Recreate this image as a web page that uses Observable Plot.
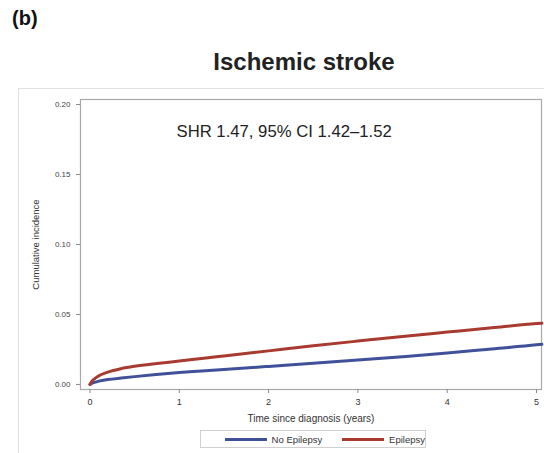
<!DOCTYPE html>
<html>
<head>
<meta charset="utf-8">
<script src="https://cdn.jsdelivr.net/npm/d3@7"></script>
<script src="https://cdn.jsdelivr.net/npm/@observablehq/plot@0.6"></script>
<style>
  body { margin: 0; background: #fff; font-family: "Liberation Sans", Arial, sans-serif; }
  #wrap { position: relative; width: 544px; height: 453px; overflow: hidden; }
  #wrap svg { position: absolute; left: 0; top: 0; }
  .abs { position: absolute; white-space: nowrap; }
  #panel { left: 12px; top: 7px; font-size: 20px; font-weight: bold; color: #111; }
  #title { left: 0; width: 608px; top: 48px; text-align: center; font-size: 24px; font-weight: bold; color: #222; }
  #outer { left: 18px; top: 88px; width: 600px; height: 500px; border: 1px solid #e2e2e2; }
  #legend { left: 200px; top: 430px; width: 224px; height: 16px; border: 1px solid #d0d0d0; font-size: 9.5px; color: #333; display: flex; align-items: center; }
  .sw { display: inline-block; width: 42px; height: 3px; margin: 0 5px 0 0; }
</style>
</head>
<body>
<div id="wrap">
  <div class="abs" id="outer"></div>
  <div class="abs" id="panel">(b)</div>
  <div class="abs" id="title">Ischemic stroke</div>
  <div class="abs" id="legend"></div>
</div>
<script>
// Data
const years = [0, 0.02, 0.05, 0.1, 0.2, 0.35, 0.5, 0.75, 1, 1.25, 1.5, 2, 2.5, 3, 3.5, 4, 4.5, 5, 5.06];
const epilepsy = [0, 0.0022, 0.0040, 0.0062, 0.0088, 0.0113, 0.0130, 0.0150, 0.0167, 0.0186, 0.0204, 0.0240, 0.0276, 0.0310, 0.0343, 0.0374, 0.0405, 0.0435, 0.0438];
const noEpilepsy = [0, 0.0008, 0.0015, 0.0024, 0.0035, 0.0046, 0.0056, 0.0071, 0.0085, 0.0096, 0.0107, 0.0129, 0.0151, 0.0174, 0.0198, 0.0224, 0.0254, 0.0283, 0.0287];
const seriesNames = ["No Epilepsy", "Epilepsy"];
const seriesColors = ["#40519a", "#a83a30"];
const yTicks = [0, 0.05, 0.10, 0.15, 0.20];
const xTicks = [0, 1, 2, 3, 4, 5];
const annotation = "SHR 1.47, 95% CI 1.42\u20131.52";
const xLabel = "Time since diagnosis (years)";
const yLabel = "Cumulative incidence";

const rows = [];
years.forEach((t, i) => {
  rows.push({t, v: noEpilepsy[i], s: seriesNames[0]});
  rows.push({t, v: epilepsy[i], s: seriesNames[1]});
});

const chart = Plot.plot({
  width: 544,
  height: 453,
  marginTop: 99,
  marginLeft: 80,
  marginRight: 3,
  marginBottom: 64,
  style: {fontFamily: "Liberation Sans, Arial, sans-serif", background: "transparent", color: "#444"},
  x: {domain: [-0.106, 5.056]},
  y: {domain: [-0.0036, 0.2036]},
  color: {domain: seriesNames, range: seriesColors},
  marks: [
    Plot.frame({stroke: "#a8a8a8", strokeWidth: 1.2}),
    Plot.axisY({ticks: yTicks, tickFormat: ".2f", tickSize: 4, tickPadding: 6, fontSize: 8, stroke: "#888", fill: "#444", label: null}),
    Plot.axisX({ticks: xTicks, tickFormat: "d", tickSize: 4, tickPadding: 5, fontSize: 9, stroke: "#888", fill: "#333", label: null}),
    Plot.line(rows, {x: "t", y: "v", z: "s", stroke: "s", strokeWidth: 3, curve: "monotone-x"}),
    Plot.text([annotation], {text: d => d, frameAnchor: "top-left", dx: 96, dy: 26, fontSize: 16.7, fill: "#222", textAnchor: "start"}),
    Plot.text([xLabel], {text: d => d, frameAnchor: "bottom", dy: 32, fontSize: 10, fill: "#333", textAnchor: "middle"}),
    Plot.text([yLabel], {text: d => d, frameAnchor: "left", dx: -45, rotate: -90, fontSize: 9.5, fill: "#333", textAnchor: "middle"})
  ]
});
document.getElementById("wrap").appendChild(chart);

const legend = document.getElementById("legend");
legend.innerHTML = "";
const pad = document.createElement("span");
pad.style.width = "24px"; pad.style.display = "inline-block";
legend.appendChild(pad);
seriesNames.forEach((name, i) => {
  const sw = document.createElement("span");
  sw.className = "sw";
  sw.style.background = seriesColors[i];
  legend.appendChild(sw);
  const lab = document.createElement("span");
  lab.textContent = name;
  lab.style.marginRight = i === 0 ? "20px" : "0";
  legend.appendChild(lab);
});
</script>
</body>
</html>
